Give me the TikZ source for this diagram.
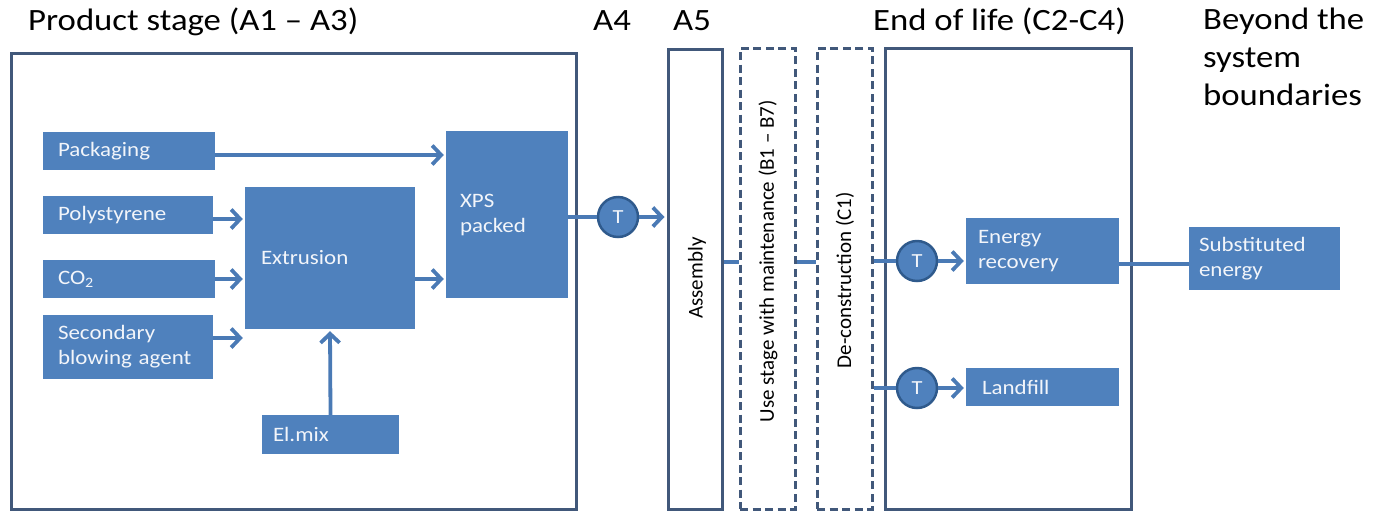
\documentclass[tikz,border=0pt]{standalone}
\usepackage{fontspec}
\setmainfont{Carlito}[FakeStretch=1.12]
\newfontfamily\rotfont{Carlito}
\usetikzlibrary{arrows.meta,calc}
\definecolor{boxblue}{HTML}{4F81BD}
\definecolor{framec}{HTML}{41587A}
\definecolor{arrblue}{HTML}{4A7AB5}
\definecolor{circedge}{HTML}{2F5A8C}
\definecolor{boxtext}{HTML}{F2F5FA}
\begin{document}
\begin{tikzpicture}[x=1pt,y=-1pt,
  title/.style={anchor=base west,font=\fontsize{31}{36}\selectfont,text=black,inner sep=0pt},
  pbox/.style={fill=boxblue,text=boxtext,font=\fontsize{20.5}{25}\selectfont,align=left,inner ysep=0pt},
  frm/.style={draw=framec,line width=3pt,inner sep=0pt},
  dfrm/.style={frm,dash pattern=on 8pt off 4.5pt},
  rlab/.style={rotate=90,font=\rotfont\fontsize{21}{25}\selectfont,text=black,inner sep=0pt},
  tcirc/.style={circle,fill=boxblue,draw=circedge,line width=2.5pt,minimum size=40pt,inner sep=0pt,text=boxtext,font=\fontsize{20}{22}\selectfont},
  conn/.style={draw=arrblue,line width=3.8pt},
  arr/.style={conn,-{Straight Barb[length=9pt,width=19pt]},shorten >=2pt}
]
\useasboundingbox (0,0) rectangle (1383,512);

% titles
\node[title] (tps) at (28,30) {Product stage (A1 – A3)};
\node[title] (ta4) at (593,30) {A4};
\node[title] (ta5) at (673,30) {A5};
\node[title] (teol) at (873,30) {End of life (C2-C4)};
\node[title,align=left,anchor=north west,font=\fontsize{31}{38}\selectfont] (tbey) at (1203,8) {Beyond the\\system\\boundaries};

% frames
\node[frm,minimum width=565pt,minimum height=456pt] (ps) at (293.5,281) {};
\node[frm,minimum width=54pt,minimum height=460pt] (asm) at (695,279) {};
\node[dfrm,minimum width=55pt,minimum height=461pt] (use) at (767.5,278.5) {};
\node[dfrm,minimum width=55pt,minimum height=461pt] (dec) at (844.5,278.5) {};
\node[frm,minimum width=246pt,minimum height=461pt] (eol) at (1008,278.5) {};

\node[rlab] (lasm) at (697,278) {Assembly};
\node[rlab] (luse) at (768,261) {Use stage with maintenance (B1 – B7)};
\node[rlab] (ldec) at (845,280) {De-construction (C1)};

% process boxes
\node[pbox,minimum height=38pt,inner xsep=15pt,text width=142pt] (pack) at (129,151) {Packaging};
\node[pbox,minimum height=38pt,inner xsep=15pt,text width=140pt] (poly) at (128,215) {Polystyrene};
\node[pbox,minimum height=38pt,inner xsep=15pt,text width=142pt] (co2) at (129,279) {CO\textsubscript{2}};
\node[pbox,minimum height=64pt,inner xsep=15pt,text width=140pt] (sec) at (128,347) {Secondary\\blowing agent};
\node[pbox,minimum height=142pt,inner xsep=16pt,text width=138pt] (extr) at (330,258) {Extrusion};
\node[pbox,minimum height=167pt,inner xsep=14pt,text width=94pt] (xps) at (507,214.5) {XPS\\packed};
\node[pbox,minimum height=39pt,inner xsep=11pt,text width=115pt] (elmix) at (330.5,434.5) {El.mix};
\node[pbox,minimum height=66pt,inner xsep=12pt,text width=129pt] (energy) at (1042.5,251) {Energy\\recovery};
\node[pbox,minimum height=38pt,inner xsep=16pt,text width=121pt] (land) at (1042.5,387) {Landfill};
\node[pbox,minimum height=63pt,inner xsep=10pt,text width=131pt] (subst) at (1264.5,258.5) {Substituted\\energy};

% transport circles
\node[tcirc] (t1) at (618,217) {T};
\node[tcirc] (t2) at (917,261) {T};
\node[tcirc] (t3) at (917,388) {T};

\coordinate (lvl) at (0,262);
\coordinate (lvlE) at (0,264);

% connectors
\draw[arr] ([yshift=-4pt]pack.east) -- ([yshift=-4pt]pack.east -| xps.west);
\draw[arr] ([yshift=-4pt]poly.east) -- ([yshift=-4pt]poly.east -| extr.west);
\draw[arr] (co2.east) -- (co2.east -| extr.west);
\draw[arr] ([yshift=9pt]sec.east) -- ([yshift=9pt]sec.east -| extr.west);
\draw[arr] ([yshift=-21pt]extr.east) -- ([yshift=-21pt]extr.east -| xps.west);
\draw[arr] (elmix.north) -- (extr.south);
\draw[conn] (xps.east |- t1) -- (t1);
\draw[arr] (t1) -- (t1 -| asm.west);
\draw[conn] (asm.east |- lvl) -- (use.west |- lvl);
\draw[conn] (use.east |- lvl) -- (dec.west |- lvl);
\draw[conn] (dec.east |- t2) -- (t2);
\draw[arr] (t2) -- (t2 -| energy.west);
\draw[conn] (dec.east |- t3) -- (t3);
\draw[arr] (t3) -- (t3 -| land.west);
\draw[conn] (energy.east |- lvlE) -- (subst.west |- lvlE);
\end{tikzpicture}
\end{document}
